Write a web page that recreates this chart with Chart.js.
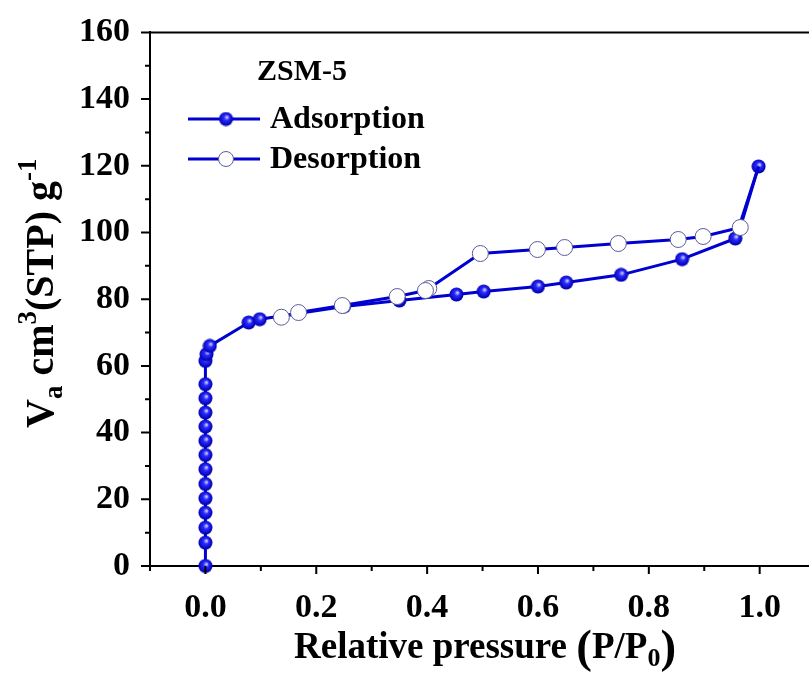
<!DOCTYPE html>
<html>
<head>
<meta charset="utf-8">
<script src="https://cdn.jsdelivr.net/npm/chart.js@4"></script>
<style>
  html, body { margin: 0; padding: 0; background: #fff; overflow: hidden; }
</style>
</head>
<body>
<canvas id="isotherm" width="809" height="673"></canvas>
<script>
// N2 isotherm of ZSM-5
const adsX = [0, 0, 0, 0, 0, 0, 0, 0, 0, 0, 0, 0, 0, 0, 0.002, 0.008, 0.078, 0.098, 0.25, 0.35, 0.453, 0.502, 0.6, 0.651, 0.75, 0.86, 0.956, 0.998];
const adsY = [0, 7, 11.5, 16, 20.3, 24.6, 29, 33.3, 37.5, 41.8, 46, 50.3, 54.5, 61.5, 63.5, 66, 73, 74, 77.8, 79.6, 81.4, 82.3, 83.8, 85, 87.3, 92, 98.2, 119.8];
const desX = [0.998, 0.965, 0.898, 0.853, 0.745, 0.648, 0.599, 0.496, 0.403, 0.397, 0.346, 0.247, 0.168, 0.137];
const desY = [119.8, 101.5, 98.8, 97.9, 96.7, 95.5, 94.9, 93.7, 83.2, 82.6, 80.8, 78.1, 76, 74.6];

const seriesNames = ['Adsorption', 'Desorption'];
const sampleName = 'ZSM-5';
const xTicks = [0, 0.2, 0.4, 0.6, 0.8, 1.0];
const yTicks = [0, 20, 40, 60, 80, 100, 120, 140, 160];

const SERIF = '"Liberation Serif", "Times New Roman", serif';
const LINE = '#0000d0';

// shaded blue ball used as marker
function makeBall(r) {
    const c = document.createElement('canvas');
    c.width = c.height = r * 2 + 1;
    const g = c.getContext('2d');
    const grad = g.createRadialGradient(r * 1.25, r * 0.8, 0.5, r, r, r);
    grad.addColorStop(0, '#c8c8ff');
    grad.addColorStop(0.35, '#2a2aff');
    grad.addColorStop(1, '#0000b0');
    g.fillStyle = grad;
    g.beginPath();
    g.arc(r + 0.5, r + 0.5, r, 0, Math.PI * 2);
    g.fill();
    return c;
}
const ball = makeBall(7);

const toPts = (xs, ys) => xs.map((x, i) => ({ x: x, y: ys[i] }));

// draws a run of text pieces with their own size and vertical shift
function richText(ctx, parts, x, y) {
    let cx = x;
    parts.forEach(p => {
        ctx.font = 'bold ' + p.size + 'px ' + SERIF;
        ctx.fillText(p.t, cx, y + (p.dy || 0));
        cx += ctx.measureText(p.t).width;
    });
}

const decor = {
    id: 'decor',
    afterDraw(chart) {
        const ctx = chart.ctx;
        const a = chart.chartArea;
        const xs = chart.scales.x, ys = chart.scales.y;
        ctx.save();
        ctx.strokeStyle = '#000';
        ctx.fillStyle = '#000';
        ctx.lineWidth = 2;
        // top frame line (right side of the frame is cut off in the figure)
        ctx.beginPath();
        ctx.moveTo(a.left, a.top);
        ctx.lineTo(chart.width, a.top);
        ctx.moveTo(a.right, a.bottom);
        ctx.lineTo(chart.width, a.bottom);
        ctx.stroke();
        // major + minor ticks
        ctx.beginPath();
        for (let v = 0; v <= 160; v += 10) {
            const py = ys.getPixelForValue(v);
            ctx.moveTo(a.left, py);
            ctx.lineTo(a.left - (v % 20 === 0 ? 9 : 5), py);
        }
        for (let i = -1; i <= 10; i++) {
            const px = xs.getPixelForValue(i / 10);
            ctx.moveTo(px, a.bottom);
            ctx.lineTo(px, a.bottom + (i % 2 === 0 ? 8 : 5));
        }
        ctx.stroke();

        // legend
        ctx.textBaseline = 'alphabetic';
        ctx.font = 'bold 30px ' + SERIF;
        ctx.fillText(sampleName, 257, 80);
        const rows = [{ y: 119, filled: true }, { y: 159, filled: false }];
        rows.forEach((r, i) => {
            ctx.strokeStyle = LINE;
            ctx.lineWidth = 3;
            ctx.beginPath();
            ctx.moveTo(188, r.y);
            ctx.lineTo(260, r.y);
            ctx.stroke();
            if (r.filled) {
                ctx.drawImage(ball, 226 - 7.5, r.y - 7.5);
            } else {
                ctx.fillStyle = '#fff';
                ctx.strokeStyle = '#5a5a9a';
                ctx.lineWidth = 1;
                ctx.beginPath();
                ctx.arc(226, r.y, 7.5, 0, Math.PI * 2);
                ctx.fill();
                ctx.stroke();
            }
            ctx.fillStyle = '#000';
            ctx.font = 'bold 32px ' + SERIF;
            ctx.textBaseline = 'middle';
            ctx.fillText(seriesNames[i], 270, r.y + 1);
            ctx.textBaseline = 'alphabetic';
        });

        // x title
        richText(ctx, [
            { t: 'Relative pressure ', size: 37 },
            { t: '(', size: 47, dy: 4 },
            { t: 'P/P', size: 37 },
            { t: '0', size: 26, dy: 8 },
            { t: ')', size: 47, dy: 4 }
        ], 294, 658);

        // y title (rotated)
        ctx.save();
        ctx.translate(53, 428);
        ctx.rotate(-Math.PI / 2);
        richText(ctx, [
            { t: 'V', size: 40 },
            { t: 'a', size: 27, dy: 9 },
            { t: ' cm', size: 40 },
            { t: '3', size: 27, dy: -17 },
            { t: '(STP) g', size: 40 },
            { t: '-1', size: 27, dy: -17 }
        ], 0, 0);
        ctx.restore();
        ctx.restore();
    }
};

new Chart(document.getElementById('isotherm'), {
    type: 'scatter',
    data: {
        datasets: [{
            label: seriesNames[0],
            data: toPts(adsX, adsY),
            showLine: true,
            borderColor: LINE,
            borderWidth: 3,
            pointStyle: ball,
            pointRadius: 7,
            order: 1,
            clip: false
        }, {
            label: seriesNames[1],
            data: toPts(desX, desY),
            showLine: true,
            borderColor: LINE,
            borderWidth: 3,
            pointBackgroundColor: '#fff',
            pointBorderColor: '#5a5a9a',
            pointBorderWidth: 1,
            pointRadius: ctx => ctx.dataIndex === 0 ? 0 : 8,
            order: 0,
            clip: false
        }]
    },
    options: {
        responsive: false,
        animation: false,
        events: [],
        layout: { autoPadding: false, padding: { top: 24.5, right: 0, left: 0, bottom: 0 } },
        plugins: { legend: { display: false }, tooltip: { enabled: false } },
        scales: {
            x: {
                type: 'linear',
                min: -0.1,
                max: 1.089,
                afterFit: s => { s.height = 107; },
                afterBuildTicks: s => { s.ticks = xTicks.map(v => ({ value: v })); },
                border: { display: true, color: '#000', width: 2 },
                grid: { display: false },
                ticks: {
                    color: '#000',
                    padding: 14,
                    font: { family: SERIF, size: 34, weight: 'bold' },
                    callback: v => v.toFixed(1)
                }
            },
            y: {
                type: 'linear',
                min: 0,
                max: 160,
                afterFit: s => { s.width = 150; },
                afterBuildTicks: s => { s.ticks = yTicks.map(v => ({ value: v })); },
                border: { display: true, color: '#000', width: 2 },
                grid: { display: false },
                ticks: {
                    color: '#000',
                    padding: 12,
                    font: { family: SERIF, size: 34, weight: 'bold' }
                }
            }
        }
    },
    plugins: [decor]
});
</script>
</body>
</html>
